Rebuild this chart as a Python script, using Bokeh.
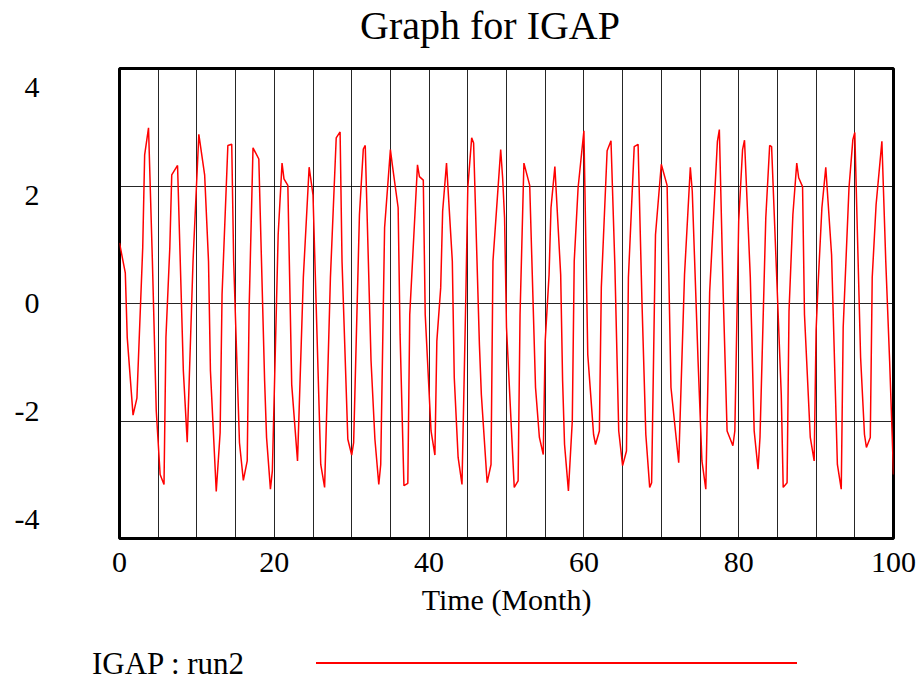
from bokeh.plotting import figure
from bokeh.models import Range1d, LinearAxis, FixedTicker, Grid, Div
from bokeh.layouts import column
from bokeh.embed import file_html
from bokeh.resources import INLINE

# Data (Time in months, IGAP value)
month = [0.0, 0.75, 1.0, 1.75, 2.25, 3.0, 3.25, 3.75, 4.25, 4.75, 5.25, 5.75, 6.0, 6.5, 6.75,
         7.5, 8.25, 8.75, 9.5, 10.25, 11.0, 11.5, 11.75, 12.5, 13.0, 13.25, 14.0, 14.5, 14.75,
         15.5, 16.0, 16.5, 16.75, 17.25, 18.0, 18.75, 19.0, 19.5, 19.75, 20.5, 21.0, 21.25,
         21.75, 22.25, 23.0, 23.75, 24.5, 25.0, 26.0, 26.5, 27.25, 28.0, 28.5, 28.75, 29.5,
         30.0, 30.25, 31.0, 31.5, 31.75, 32.5, 33.0, 33.5, 33.75, 34.25, 35.0, 35.25, 36.0,
         36.25, 36.75, 37.25, 37.5, 38.5, 38.75, 39.25, 39.5, 40.25, 40.75, 41.0, 41.5, 41.75,
         42.25, 43.0, 43.25, 43.75, 44.25, 44.75, 45.0, 45.5, 45.75, 46.5, 46.75, 47.5, 48.0,
         48.25, 49.25, 49.5, 49.75, 50.0, 51.0, 51.5, 51.75, 52.25, 53.0, 53.75, 54.25, 54.75,
         55.0, 55.5, 55.75, 56.25, 57.0, 57.25, 57.5, 58.0, 58.5, 58.75, 59.25, 60.0, 60.5,
         61.25, 61.5, 62.0, 62.25, 63.0, 63.5, 64.0, 64.5, 65.0, 65.5, 65.75, 66.5, 67.0, 67.5,
         68.0, 68.5, 68.75, 69.25, 70.0, 70.75, 71.25, 72.25, 73.0, 73.75, 74.0, 74.75, 75.25,
         75.75, 76.25, 77.25, 77.5, 78.0, 78.5, 79.25, 79.5, 80.0, 80.5, 80.75, 81.5, 82.0,
         82.5, 82.75, 83.5, 84.0, 84.25, 85.0, 85.5, 85.75, 86.25, 86.5, 87.0, 87.5, 87.75,
         88.25, 88.5, 89.25, 89.75, 90.0, 90.25, 90.75, 91.25, 92.0, 92.75, 93.25, 93.5, 94.25,
         94.75, 95.0, 95.75, 96.25, 96.5, 97.0, 97.25, 97.75, 98.5, 99.0, 99.5, 100.0]
igap = [1.03, 0.52, -0.58, -1.90, -1.61, 0.95, 2.53, 2.99, 0.72, -1.83, -2.91, -3.08, -0.58, 0.95, 2.19,
        2.35, -1.15, -2.36, 0.72, 2.88, 2.19, 0.72, -1.15, -3.20, -2.20, 0.15, 2.69, 2.71, 0.72,
        -2.37, -3.01, -2.68, -0.07, 2.65, 2.46, -1.32, -2.28, -3.16, -2.85, 1.17, 2.39, 2.12,
        2.01, -1.38, -2.68, 0.44, 2.32, 1.85, -2.74, -3.13, 0.44, 2.82, 2.92, 0.72, -2.31,
        -2.58, -2.37, 1.51, 2.63, 2.69, -0.98, -2.31, -3.08, -2.74, 1.29, 2.62, 2.36, 1.63,
        -0.53, -3.10, -3.06, -0.19, 2.36, 2.16, 2.10, -0.19, -2.17, -2.58, -0.64, 0.27, 1.57,
        2.39, 0.72, -1.26, -2.62, -3.08, 0.15, 1.97, 2.82, 2.73, -0.70, -1.55, -3.05, -2.74,
        0.72, 2.62, 2.14, 1.46, -0.41, -3.13, -3.02, -0.19, 2.39, 2.01, -1.43, -2.28, -2.57,
        -0.64, 0.49, 1.63, 2.33, 0.49, -1.32, -2.40, -3.19, -2.00, 0.72, 1.97, 2.94, -0.87,
        -2.23, -2.40, -2.17, 0.27, 2.60, 2.77, 0.65, -2.17, -2.76, -2.51, 0.44, 2.67, 2.71, 0.04,
        -2.23, -3.13, -3.05, 1.17, 2.37, 2.01, -1.43, -2.71, 0.49, 2.32, 1.91, -0.98, -2.68,
        -3.16, 0.20, 2.76, 2.96, 0.15, -2.17, -2.42, -2.17, 1.40, 2.62, 2.78, 0.44, -2.17,
        -2.82, -2.28, 1.46, 2.69, 2.67, 0.15, -1.55, -3.13, -3.05, -0.13, 1.51, 2.39, 2.14,
        1.99, -0.19, -2.28, -2.68, -0.45, 0.30, 1.63, 2.32, 0.83, -2.74, -3.16, -0.41, 1.97,
        2.79, 2.91, -0.92, -2.23, -2.45, -2.28, 0.44, 1.68, 2.76, 0.72, -0.98, -2.91]

x_tick_labels = [0, 20, 40, 60, 80, 100]
y_tick_labels = [-4, -2, 0, 2, 4]
x_grid_months = [5, 10, 15, 20, 25, 30, 35, 40, 45, 50, 55, 60, 65, 70, 75, 80, 85, 90, 95]
y_grid_values = [-2, 0, 2]
chart_title = "Graph for IGAP"
series_name = "IGAP : run2"
series_color = "red"

SERIF = "Liberation Serif"

# Title strip above the chart
title_html = (
    '<div style="position:relative;width:921px;height:55px;">'
    f'<span style="position:absolute;left:490px;top:6px;transform:translateX(-50%);'
    f'font-family:\'{SERIF}\';font-size:40px;line-height:1;color:black;white-space:nowrap;">'
    f'{chart_title}</span></div>'
)
title_strip = Div(text=title_html, width=921, height=55, margin=0)

p = figure(width=921, height=575, output_backend="svg", toolbar_location=None, title=None,
           x_range=Range1d(0, 100), y_range=Range1d(-4, 4),
           y_axis_location=None,
           min_border_left=119, min_border_right=28, min_border_top=13, min_border_bottom=92,
           background_fill_color="white", border_fill_color="white")

for g in list(p.xgrid) + list(p.ygrid):
    g.visible = False

p.outline_line_color = "black"
p.outline_line_width = 3
p.outline_line_alpha = 1.0

# Grid lines
p.add_layout(Grid(dimension=0, ticker=FixedTicker(ticks=x_grid_months),
                  grid_line_color="black", grid_line_width=1, grid_line_alpha=0.85))
p.add_layout(Grid(dimension=1, ticker=FixedTicker(ticks=y_grid_values),
                  grid_line_color="black", grid_line_width=1, grid_line_alpha=0.85))

# X axis
xa = p.xaxis[0]
xa.ticker = FixedTicker(ticks=x_tick_labels)
xa.axis_label = "Time (Month)"
xa.axis_label_text_font = SERIF
xa.axis_label_text_font_size = "30px"
xa.axis_label_text_font_style = "normal"
xa.axis_label_text_color = "black"
xa.axis_label_standoff = 8
xa.major_label_text_font = SERIF
xa.major_label_text_font_size = "30px"
xa.major_label_text_color = "black"
xa.major_label_standoff = 14
xa.major_tick_line_color = None
xa.minor_tick_line_color = None
xa.major_tick_out = 0
xa.major_tick_in = 0
xa.minor_tick_out = 0
xa.axis_line_color = None

# Y axis labels (Vensim places them slightly inside the range)
p.extra_y_ranges = {"lab": Range1d(-4.36, 4.36)}
ya = LinearAxis(y_range_name="lab", ticker=FixedTicker(ticks=y_tick_labels))
ya.major_label_overrides = {-4: "-4", -2: "-2"}
ya.major_label_text_font = SERIF
ya.major_label_text_font_size = "30px"
ya.major_label_text_color = "black"
ya.major_label_standoff = 80
ya.major_tick_line_color = None
ya.minor_tick_line_color = None
ya.major_tick_out = 0
ya.major_tick_in = 0
ya.minor_tick_out = 0
ya.axis_line_color = None
p.add_layout(ya, "left")

# Series
p.line(month, igap, line_color=series_color, line_width=1.5)

# Legend strip under the chart: series name, then its line sample
legend_html = (
    '<div style="position:relative;width:921px;height:49px;">'
    f'<span style="position:absolute;left:92px;top:33px;transform:translateY(-50%);'
    f'font-family:\'{SERIF}\';font-size:31px;line-height:1;color:black;white-space:nowrap;">'
    f'{series_name}</span>'
    f'<div style="position:absolute;left:316px;top:32px;width:481px;height:0;'
    f'border-top:2px solid {series_color};"></div>'
    '</div>'
)
legend_strip = Div(text=legend_html, width=921, height=49, margin=0)

layout = column(title_strip, p, legend_strip, spacing=0)

open("out.html", "w").write(file_html(layout, INLINE))
